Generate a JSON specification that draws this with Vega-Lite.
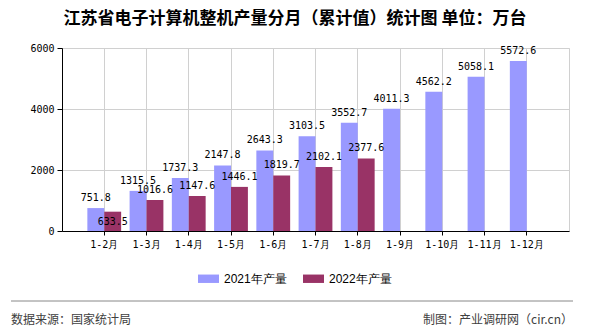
{
  "$schema": "https://vega.github.io/schema/vega-lite/v6.json",
  "padding": {"left": 10, "top": 9, "right": 0, "bottom": 0},
  "background": "#ffffff",
  "title": {
    "text": "江苏省电子计算机整机产量分月（累计值）统计图 单位：万台",
    "font": "Noto Sans CJK SC",
    "fontSize": 17,
    "fontWeight": "bold",
    "color": "#000000",
    "anchor": "middle",
    "dx": 3,
    "offset": 15
  },
  "config": {
    "view": {"stroke": null},
    "axis": {"labelColor": "#000000", "tickColor": "#000000", "domainColor": "#000000"}
  },
  "columns": 1,
  "spacing": 50,
  "concat": [
    {
      "width": 507,
      "height": 183,
      "view": {"stroke": "#d0d0d0"},
      "data": {
        "values": [
          {"month": "1-2月", "year": "2021年产量", "value": 751.8},
          {"month": "1-2月", "year": "2022年产量", "value": 633.5},
          {"month": "1-3月", "year": "2021年产量", "value": 1315.5},
          {"month": "1-3月", "year": "2022年产量", "value": 1016.6},
          {"month": "1-4月", "year": "2021年产量", "value": 1737.3},
          {"month": "1-4月", "year": "2022年产量", "value": 1147.6},
          {"month": "1-5月", "year": "2021年产量", "value": 2147.8},
          {"month": "1-5月", "year": "2022年产量", "value": 1446.1},
          {"month": "1-6月", "year": "2021年产量", "value": 2643.3},
          {"month": "1-6月", "year": "2022年产量", "value": 1819.7},
          {"month": "1-7月", "year": "2021年产量", "value": 3103.5},
          {"month": "1-7月", "year": "2022年产量", "value": 2102.1},
          {"month": "1-8月", "year": "2021年产量", "value": 3552.7},
          {"month": "1-8月", "year": "2022年产量", "value": 2377.6},
          {"month": "1-9月", "year": "2021年产量", "value": 4011.3},
          {"month": "1-10月", "year": "2021年产量", "value": 4562.2},
          {"month": "1-11月", "year": "2021年产量", "value": 5058.1},
          {"month": "1-12月", "year": "2021年产量", "value": 5572.6}
        ]
      },
      "encoding": {
        "x": {
          "field": "month",
          "type": "nominal",
          "sort": null,
          "scale": {"paddingInner": 0.2, "paddingOuter": 0.6},
          "axis": {
            "title": null,
            "labelAngle": 0,
            "labelFont": "DejaVu Sans Mono",
            "labelFontSize": 10,
            "labelPadding": 4,
            "tickSize": 4,
            "bandPosition": 0.5,
            "grid": true,
            "gridColor": "#d0d0d0",
            "domainColor": "#000000"
          }
        },
        "xOffset": {
          "field": "year",
          "type": "nominal",
          "scale": {"domain": ["2021年产量", "2022年产量"], "paddingInner": 0, "paddingOuter": 0}
        },
        "y": {
          "field": "value",
          "type": "quantitative",
          "scale": {"domain": [0, 6000], "nice": false},
          "axis": {
            "title": null,
            "values": [0, 2000, 4000, 6000],
            "format": "d",
            "labelFont": "DejaVu Sans Mono",
            "labelFontSize": 10,
            "labelPadding": 3,
            "tickSize": 5,
            "grid": true,
            "gridColor": "#d0d0d0",
            "domainColor": "#000000"
          }
        }
      },
      "layer": [
        {
          "mark": {"type": "bar", "opacity": 1},
          "encoding": {
            "color": {
              "field": "year",
              "type": "nominal",
              "scale": {"domain": ["2021年产量", "2022年产量"], "range": ["#9999FF", "#993366"]},
              "legend": {
                "orient": "none",
                "legendX": 136,
                "legendY": 220,
                "direction": "horizontal",
                "title": null,
                "symbolType": "M-1,-0.4H1V0.4H-1Z",
                "symbolSize": 441,
                "symbolStrokeWidth": 0,
                "symbolOpacity": 1,
                "labelFont": "Liberation Sans",
                "labelFontSize": 12,
                "labelColor": "#000000",
                "labelOffset": 5,
                "columnPadding": 16
              }
            }
          }
        },
        {
          "mark": {
            "type": "text",
            "baseline": "alphabetic",
            "font": "DejaVu Sans Mono",
            "fontSize": 10,
            "color": "#000000",
            "dy": {"expr": "datum.value < 700 && datum.year == '2022年产量' ? 13 : -7"}
          },
          "encoding": {
            "text": {"field": "value", "type": "quantitative", "format": ".1f"}
          }
        }
      ]
    },
    {
      "width": 507,
      "height": 37,
      "data": {
        "values": [
          {"side": "left", "t": "数据来源：国家统计局", "level": 1},
          {"side": "right", "t": "制图：产业调研网（cir.cn）", "level": 1}
        ]
      },
      "encoding": {
        "x": {
          "field": "side",
          "type": "nominal",
          "scale": {"type": "point", "domain": ["left", "right"], "range": [-51, 511], "padding": 0},
          "axis": null
        }
      },
      "layer": [
        {
          "transform": [{"filter": "datum.side == 'left'"}],
          "mark": {"type": "rule", "color": "#888888", "strokeWidth": 1},
          "encoding": {
            "x": {"datum": "left", "type": "nominal", "scale": {"type": "point", "domain": ["left", "right"], "range": [-51, 511], "padding": 0}, "axis": null},
            "x2": {"datum": "right"},
            "y": {"field": "level", "type": "quantitative", "scale": {"domain": [0, 1]}, "axis": null}
          }
        },
        {
          "mark": {
            "type": "text",
            "font": "Noto Sans CJK SC",
            "fontSize": 12,
            "color": "#404040",
            "baseline": "middle",
            "align": {"expr": "datum.side == 'left' ? 'left' : 'right'"}
          },
          "encoding": {
            "text": {"field": "t"}
          }
        }
      ]
    }
  ]
}
